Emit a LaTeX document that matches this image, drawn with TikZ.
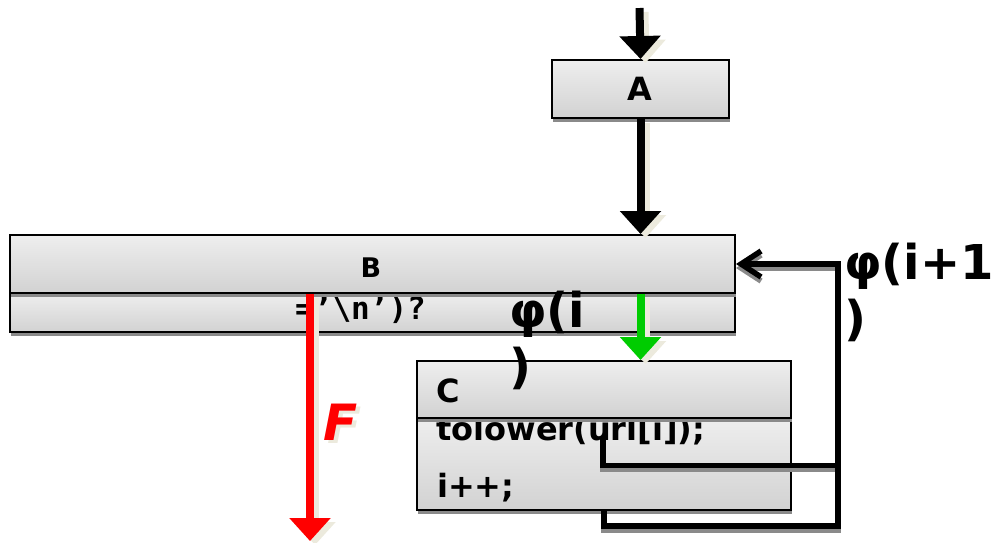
\documentclass[tikz,border=0pt]{standalone}
\usepackage{fontspec}
\setmainfont{DejaVu Sans}
\setmonofont{DejaVu Sans Mono}
\usetikzlibrary{arrows.meta,shadows}
\definecolor{boxtop}{HTML}{EEEEEE}
\definecolor{boxbot}{HTML}{D2D2D2}
\definecolor{shadowgray}{HTML}{8A8A8A}
\definecolor{cream}{HTML}{ECEADD}
\definecolor{flowgreen}{HTML}{00CC00}
\definecolor{flowred}{HTML}{FF0000}

\begin{document}
\begin{tikzpicture}[x=1pt,y=-1pt,
  part/.style={draw=black, line width=2pt, top color=boxtop, bottom color=boxbot,
    inner sep=0pt, anchor=north west,
    drop shadow={shadow xshift=1pt, shadow yshift=-4pt, fill=shadowgray, opacity=1}},
  txt/.style={inner sep=0pt, text=black},
  boxfont/.style={font=\fontsize{32}{36}\selectfont\bfseries},
  phifont/.style={font=\fontsize{48}{56}\selectfont\bfseries},
  flow/.style={line width=8pt, -{Triangle[width=40pt,length=23pt]}},
  flowshadow/.style={flow, cream, transform canvas={shift={(5pt,-4pt)}}},
  loopline/.style={line width=5.5pt, line join=miter},
  loopshadow/.style={loopline, shadowgray, transform canvas={shift={(0pt,-4pt)}}},
  back/.style={-{Straight Barb[length=20pt,width=26pt,sharp]}}]

\useasboundingbox (0,0) rectangle (992,542);

% box A
\node[part, minimum width=177pt, minimum height=58pt] (A) at (551,59) {};
\node[txt, boxfont, anchor=base] (Atext) at (640,100) {A};

% box B: lower section first, so the upper one casts its shadow on it
\node[part, minimum width=725pt, minimum height=39pt] (Bl) at (9,292) {};
\node[txt, anchor=base west, font=\fontsize{31}{36}\selectfont\ttfamily\bfseries]
  (Btest) at (295,319) {=’\textbackslash n’)?};
\node[part, minimum width=725pt, minimum height=58pt] (Bu) at (9,234) {};
\node[txt, font=\fontsize{27}{31}\selectfont\bfseries, anchor=base] (Btext) at (371,277) {B};

% box C
\node[part, minimum width=374pt, minimum height=92pt] (Cl) at (416,417) {};
\node[txt, boxfont, anchor=base west] (Cline1) at (436,440) {tolower(url[i]);};
\node[txt, boxfont, anchor=base west] (Cline2) at (437,497) {i++;};
\node[part, minimum width=374pt, minimum height=57pt] (Cu) at (416,360) {};
\node[txt, boxfont, anchor=base west] (Ctext) at (436,402) {C};

% end points of the open connectors
\coordinate (In) at (639.5,8);
\coordinate (Fend) at (310,541);
\coordinate (L1) at (603,437);
\coordinate (R) at (838,465.5);

% flow arrows with their light shadows
\draw[flowshadow] (In) -- (A.north);
\draw[flow] (In) -- (A.north);
\draw[flowshadow] (A.south) -- (A.south |- Bu.north);
\draw[flow] (A.south) -- (A.south |- Bu.north);
\draw[flowshadow] (A.south |- Bu.south) -- (A.south |- Cu.north);
\draw[flow, flowgreen] (A.south |- Bu.south) -- (A.south |- Cu.north);
\draw[flowshadow] (Fend |- Bu.south) -- (Fend);
\draw[flow, flowred] (Fend |- Bu.south) -- (Fend);

% false branch label
\node[txt, text=cream, font=\fontsize{50}{60}\selectfont\bfseries\itshape, anchor=base west]
  (Fshadow) at (327,443) {F};
\node[txt, text=flowred, font=\fontsize{50}{60}\selectfont\bfseries\itshape, anchor=base west]
  (Ftext) at (323,440) {F};

% loop back to B
\draw[loopshadow] (Cl.south) -- ++(0,15) -| (R);
\draw[loopshadow, back] (L1) |- (R) |- (Bu.east);
\draw[loopline] (Cl.south) -- ++(0,15) -| (R);
\draw[loopline, back] (L1) |- (R) |- (Bu.east);

% phi labels
\node[txt, phifont, align=left, anchor=north west] (phi1) at (509,288) {\strut φ(i\\)};
\node[txt, phifont, align=left, anchor=north west] (phi2) at (844,240) {\strut φ(i+1\\)};

\end{tikzpicture}
\end{document}
